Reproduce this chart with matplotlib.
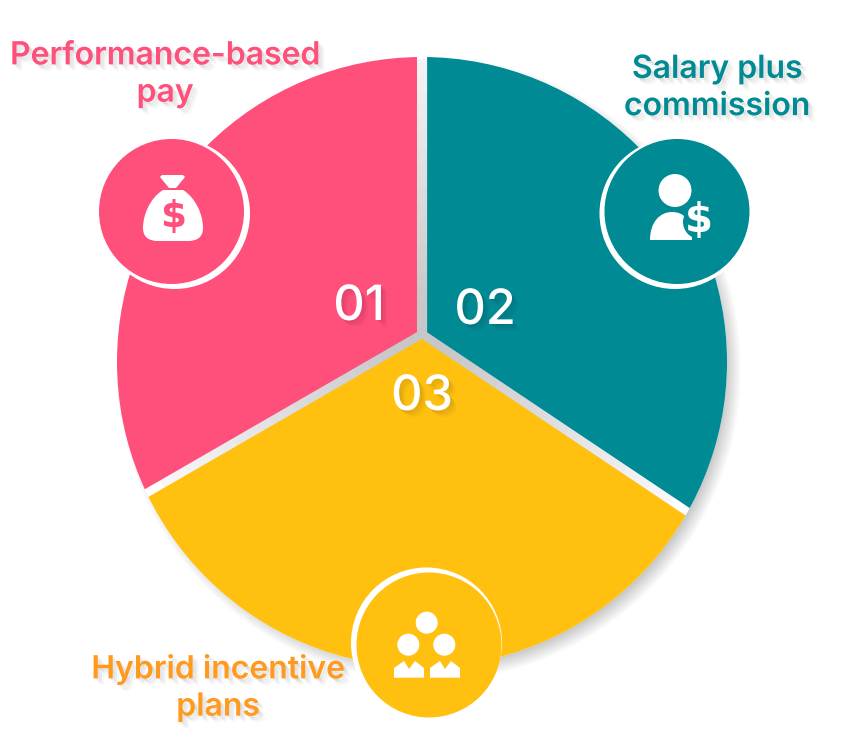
import numpy as np
import matplotlib
matplotlib.use("Agg")
import matplotlib.pyplot as plt
import matplotlib.patheffects as pe
from matplotlib.patches import Circle, PathPatch, Polygon
from matplotlib.path import Path

W, H = 854, 739

# chart data
shares = [120, 123.8, 116.2]
numbers = ["01", "02", "03"]
labels = ["Performance-based\npay", "Salary plus\ncommission", "Hybrid incentive\nplans"]
colors = ["#FF4F7B", "#008A94", "#FFC010"]
label_colors = ["#FF4F7B", "#008A94", "#FF9A1F"]
explode = [5.8, 5.8, 4.0]

plt.rcParams["font.family"] = ["Inter", "DejaVu Sans"]


def Y(py):
    # picture rows run downward, the axes upward
    return H - py


def soft_shadow():
    # a few faint offset copies stand in for the blur
    return [pe.SimplePatchShadow(offset=(1.5, -1.5), alpha=0.05, shadow_rgbFace="black"),
            pe.SimplePatchShadow(offset=(3, -3), alpha=0.05, shadow_rgbFace="black"),
            pe.SimplePatchShadow(offset=(4.5, -4.5), alpha=0.03, shadow_rgbFace="black"),
            pe.Normal()]


fig = plt.figure(figsize=(W / 100, H / 100), dpi=100)
ax = fig.add_axes([0, 0, 1, 1])

# soft shadow under the disc
for i in range(14):
    ax.add_patch(Circle((429, Y(369)), 312 - i * 1.2, fc="#000000", alpha=0.014, lw=0, zorder=1))
ax.add_patch(Circle((422, Y(362)), 305, fc="white", lw=0, zorder=1.5))

# grey seen through the gaps, fading out to the rim
for r, g in zip(np.arange(300, 20, -14), np.linspace(0.97, 0.78, 20)):
    grey = ax.add_patch(Circle((422, Y(335)), r, fc=(g, g, g + 0.01), lw=0, zorder=2))
    grey.set_clip_path(Circle((422, Y(362)), 303, transform=ax.transData))

# slices start at a hub above the centre, the outer rim is a separate circle
wedges, _ = ax.pie(shares, colors=colors, center=(422, Y(335)), radius=420, startangle=210,
                   counterclock=False, explode=explode, wedgeprops={"lw": 0}, frame=True)
for w in wedges:
    w.set_zorder(3)
    w.set_clip_on(True)
    w.set_clip_path(Circle((422, Y(362)), 305, transform=ax.transData))

# badges behind the icons
badge_xy = [(171.5, 211.5), (677, 211.5), (429, 645)]
ring_xy = [(174.5, 213.5), (675, 213.5), (426.5, 643)]
for (bx, by), (rx, ry), c in zip(badge_xy, ring_xy, colors):
    ax.add_patch(Circle((rx, Y(ry)), 75.5, fc="white", lw=0, zorder=4))
    ax.add_patch(Circle((bx, Y(by)), 72.5, fc=c, lw=0, zorder=5))

# money bag
bag = Path(
    [(163, Y(190)), (150, Y(198)), (143, Y(215)), (143, Y(228)), (143, Y(238)), (150, Y(241)), (158, Y(241)),
     (188, Y(241)), (196, Y(241)), (203, Y(238)), (203, Y(228)), (203, Y(215)), (196, Y(198)), (183, Y(190)),
     (163, Y(190))],
    [Path.MOVETO, Path.CURVE4, Path.CURVE4, Path.CURVE4, Path.CURVE4, Path.CURVE4, Path.CURVE4,
     Path.LINETO, Path.CURVE4, Path.CURVE4, Path.CURVE4, Path.CURVE4, Path.CURVE4, Path.CURVE4,
     Path.CLOSEPOLY])
ax.add_patch(PathPatch(bag, fc="white", lw=0, zorder=6))
ax.add_patch(Polygon([(162, Y(175)), (183, Y(175)), (185, Y(177)), (176, Y(188)), (169, Y(188)), (160, Y(177))],
                     fc="white", lw=0, zorder=6))
ax.text(173, Y(217), "$", color=colors[0], fontsize=27, fontweight="bold", ha="center", va="center",
        family="DejaVu Sans", zorder=7)

# person with dollar
ax.add_patch(Circle((675, Y(190.5)), 16.5, fc="white", lw=0, zorder=6))
body = Path(
    [(650, Y(240)), (650, Y(222)), (660, Y(212)), (672, Y(212)), (684, Y(212)), (692, Y(220)), (692, Y(240)), (650, Y(240))],
    [Path.MOVETO, Path.CURVE4, Path.CURVE4, Path.CURVE4, Path.CURVE4, Path.CURVE4, Path.CURVE4, Path.CLOSEPOLY])
ax.add_patch(PathPatch(body, fc="white", lw=0, zorder=6))
ax.add_patch(Circle((700, Y(222)), 17, fc=colors[1], lw=0, zorder=7))
ax.text(699, Y(221), "$", color="white", fontsize=29, fontweight="bold", ha="center", va="center",
        family="DejaVu Sans", zorder=8)

# three people
for hx, hy in [(426.7, 622.7), (408.3, 644.7), (444.3, 644.7)]:
    ax.add_patch(Circle((hx, Y(hy)), 11, fc="white", lw=0, zorder=6))
for dx in [0, 36]:
    ax.add_patch(Polygon([(394 + dx, Y(677.7)), (394 + dx, Y(668)), (404 + dx, Y(661)), (409 + dx, Y(669)),
                          (415 + dx, Y(661)), (424 + dx, Y(668)), (424 + dx, Y(677.7))],
                         fc="white", lw=0, zorder=6))

# slice numbers
number_xy = [(359, 307), (485, 311), (422, 397)]
for (nx, ny), n in zip(number_xy, numbers):
    t = ax.text(nx, Y(ny), n, color="white", fontsize=35, fontweight="medium", ha="center", va="center", zorder=9)
    t.set_path_effects(soft_shadow())

# outer captions
label_xy = [(165, 74.5), (717, 88), (218, 688)]
for (lx, ly), s, c in zip(label_xy, labels, label_colors):
    t = ax.text(lx, Y(ly), s, color=c, fontsize=23, fontweight="semibold", ha="center", va="center",
                linespacing=1.26, zorder=9)
    t.set_path_effects(soft_shadow())

ax.set_xlim(0, W)
ax.set_ylim(0, H)
ax.set_aspect("equal")
ax.axis("off")
fig.savefig("out.png", dpi=100, facecolor="white")
